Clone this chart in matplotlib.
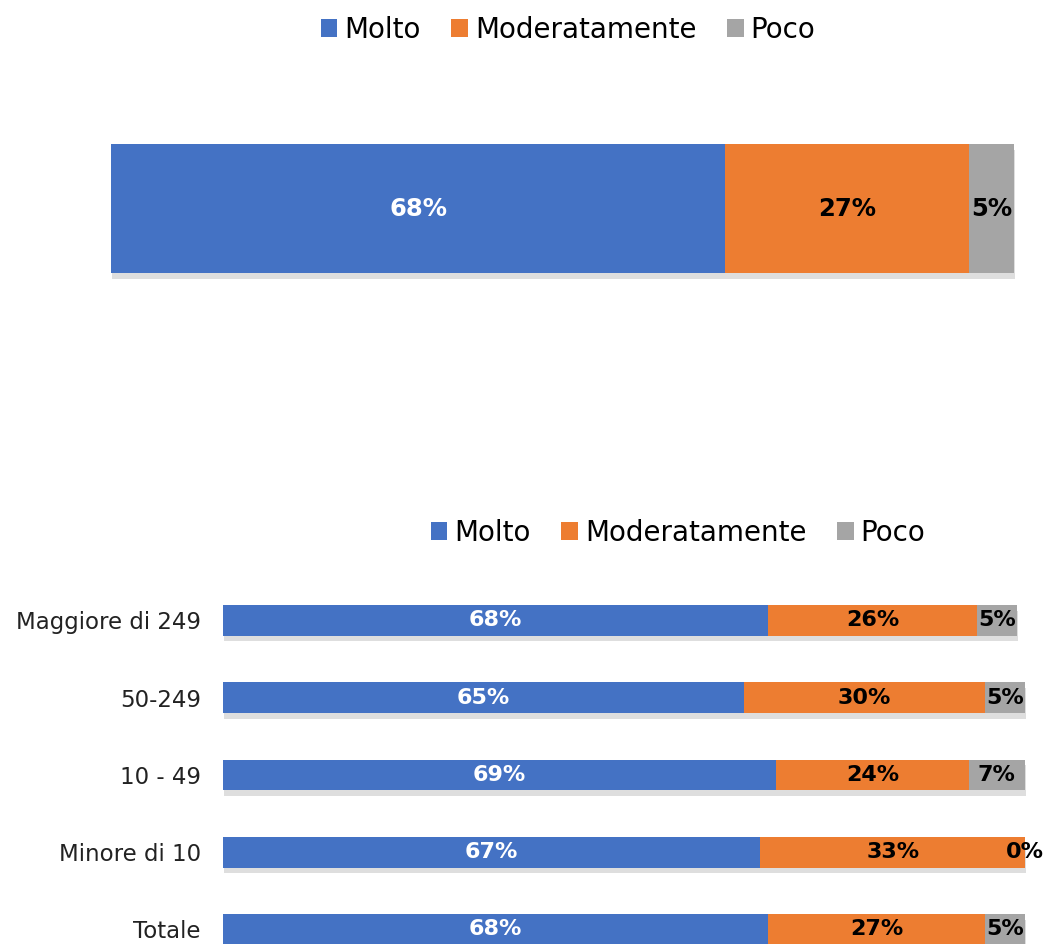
import matplotlib
matplotlib.use("Agg")
import matplotlib.pyplot as plt
import matplotlib.patheffects as pe
from matplotlib.patches import Patch

plt.rcParams['font.family'] = ['DejaVu Sans']

series = ["Molto", "Moderatamente", "Poco"]
colors = ["#4472C4", "#ED7D31", "#A5A5A5"]
label_colors = ["white", "black", "black"]

# Top chart (overall)
top_molto = [68]
top_moderatamente = [27]
top_poco = [5]

# Bottom chart (by company size)
categories = ["Maggiore di 249", "50-249", "10 - 49", "Minore di 10", "Totale"]
molto = [68, 65, 69, 67, 68]
moderatamente = [26, 30, 24, 33, 27]
poco = [5, 5, 7, 0, 5]

W, H = 1045, 944
fig = plt.figure(figsize=(W / 100, H / 100), dpi=100)

shadow = [pe.SimplePatchShadow(offset=(1, -4), shadow_rgbFace='black', alpha=0.13), pe.Normal()]


def draw(ax, cats_y, data, height, fs):
    left = [0] * len(cats_y)
    for vals, c, lc in zip(data, colors, label_colors):
        bars = ax.barh(cats_y, vals, left=left, height=height, color=c, zorder=2)
        for b in bars:
            b.set_path_effects(shadow)
            b.set_clip_on(False)
        for y, v, l in zip(cats_y, vals, left):
            ax.text(l + v / 2, y, f"{v}%", ha="center", va="center", color=lc,
                    fontsize=fs, fontweight="bold", zorder=3, clip_on=False)
        left = [a + b for a, b in zip(left, vals)]
    ax.set_xlim(0, 100)
    for s in ax.spines.values():
        s.set_visible(False)
    ax.set_xticks([])


# top axes: bar spans y 144-273 px, x 111-1014 px
ax1 = fig.add_axes([111 / W, 1 - 273 / H, 903 / W, 129 / H])
draw(ax1, [0], [top_molto, top_moderatamente, top_poco], 1.0, 17.5)
ax1.set_ylim(-0.5, 0.5)
ax1.set_yticks([])

# bottom axes
ax2 = fig.add_axes([223 / W, 0, 802 / W, 364 / H])
ypos = list(range(len(categories) - 1, -1, -1))
draw(ax2, ypos, [molto, moderatamente, poco], 0.40, 16)
ax2.set_ylim(-0.188, 4.524)
ax2.set_yticks(ypos)
ax2.set_yticklabels(categories, fontsize=16.5, color="#222222")
ax2.tick_params(axis="y", length=0, pad=16)

handles = [Patch(facecolor=c, edgecolor="none") for c in colors]
leg_kw = dict(ncol=3, frameon=False, fontsize=20, handlelength=0.6, handleheight=0.6,
              handletextpad=0.25, columnspacing=1.1, loc="center")
fig.legend(handles, series, bbox_to_anchor=(568 / W, 1 - 30 / H), **leg_kw)
fig.legend(handles, series, bbox_to_anchor=(678 / W, 1 - 533 / H), **leg_kw)

fig.savefig("out.png", dpi=100)
